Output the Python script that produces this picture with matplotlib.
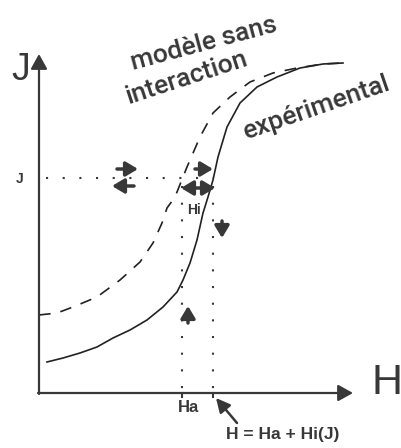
import numpy as np
import matplotlib.pyplot as plt

plt.rcParams['font.family'] = ['Liberation Sans', 'DejaVu Sans']

# curves, in picture coordinates (x to the right, y downwards)
exp_x = [47, 63, 80, 97, 113, 130, 147, 163, 177, 183, 190, 197, 203, 208,
         213, 218, 227, 240, 257, 277, 300, 323, 343]
exp_y = [362, 358, 353, 347, 338, 330, 320, 307, 292, 280, 263, 240, 213, 197,
         180, 157, 127, 103, 87, 77, 68, 64, 63]
model_x = [39, 57, 73, 97, 120, 140, 153, 162, 167, 175, 187, 200, 213, 230,
           250, 273, 297, 323, 342]
model_y = [315, 313, 307, 297, 280, 262, 243, 223, 208, 197, 167, 137, 113, 97,
           82, 73, 68, 64, 63]

# construction lines
j_level = 178
ha_pos = 182
h_pos = 213
origin = (39, 393)

# small arrows: (tail, tip)
single_arrows = [((117, 169), (138, 169)),
                 ((134, 186), (112, 186)),
                 ((195, 169), (213, 169)),
                 ((188, 323), (188, 306)),
                 ((222, 221), (222, 238))]
double_arrows = [((181, 188), (215, 188))]

ink = '#383838'

fig = plt.figure(figsize=(4.02, 4.48), dpi=100)
ax = fig.add_axes([0, 0, 1, 1])
ax.set_xlim(0, 402)
ax.set_ylim(448, 0)
ax.axis('off')

# axes with arrows
axis_arrow = dict(arrowstyle='-|>,head_length=0.45,head_width=0.25',
                  mutation_scale=20, lw=1.6, color=ink, shrinkA=0, shrinkB=0)
ax.annotate('', xy=(origin[0], 54), xytext=(origin[0], origin[1] + 1),
            arrowprops=axis_arrow)
ax.annotate('', xy=(353, origin[1]), xytext=(origin[0] - 1, origin[1]),
            arrowprops=axis_arrow)

# curves
ax.plot(model_x, model_y, color='#222', lw=1.2, ls=(0, (7, 6)))
ax.plot(exp_x, exp_y, color='#222', lw=1.2)

# dotted construction lines
dot = (0, (1, 7))
ax.plot([46, h_pos], [j_level, j_level], color=ink, lw=1.5, ls=dot)
ax.plot([ha_pos, ha_pos], [j_level + 8, origin[1]], color=ink, lw=1.5, ls=dot)
ax.plot([h_pos, h_pos], [j_level + 8, origin[1]], color=ink, lw=1.5, ls=dot)
for xt in [ha_pos, h_pos]:
    ax.plot([xt, xt], [origin[1], origin[1] + 4], color=ink, lw=1.5)

# little arrows
small = dict(mutation_scale=16, lw=2.5, color=ink, shrinkA=0, shrinkB=0)
for tail, tip in single_arrows:
    ax.annotate('', xy=tip, xytext=tail,
                arrowprops=dict(arrowstyle='-|>,head_length=0.45,head_width=0.27',
                                **small))
for a, b in double_arrows:
    ax.annotate('', xy=b, xytext=a,
                arrowprops=dict(arrowstyle='<|-|>,head_length=0.45,head_width=0.27',
                                **small))

# pointer to H
ax.annotate('', xy=(216, 398), xytext=(237, 423),
            arrowprops=dict(arrowstyle='-|>,head_length=0.6,head_width=0.3',
                            mutation_scale=14, lw=1.8, color=ink,
                            shrinkA=0, shrinkB=0))

# texts
ax.text(21, 70, 'J', fontsize=27, color=ink, ha='center', va='center')
ax.text(387, 383, 'H', fontsize=31, color=ink, ha='center', va='center')
ax.text(20, 179, 'J', fontsize=10, weight='bold', color=ink,
        ha='center', va='center')
ax.text(189, 407, 'Ha', fontsize=12, weight='bold', color=ink,
        ha='center', va='center')
ax.text(194, 210, 'Hi', fontsize=10, weight='bold', color=ink,
        ha='center', va='center')
ax.text(283, 434, 'H = Ha + Hi(J)', fontsize=12.5, weight='bold', color=ink,
        ha='center', va='center')
label_font = dict(family=['Roboto', 'DejaVu Sans'], weight='medium',
                  fontsize=19, color=ink, ha='center', va='center',
                  rotation_mode='anchor')
ax.text(204, 44, 'modèle sans', rotation=15, **label_font)
ax.text(187, 78, 'interaction', rotation=18, **label_font)
ax.text(317, 108, 'expérimental', rotation=19, **label_font)

fig.savefig('out.png', dpi=100)
